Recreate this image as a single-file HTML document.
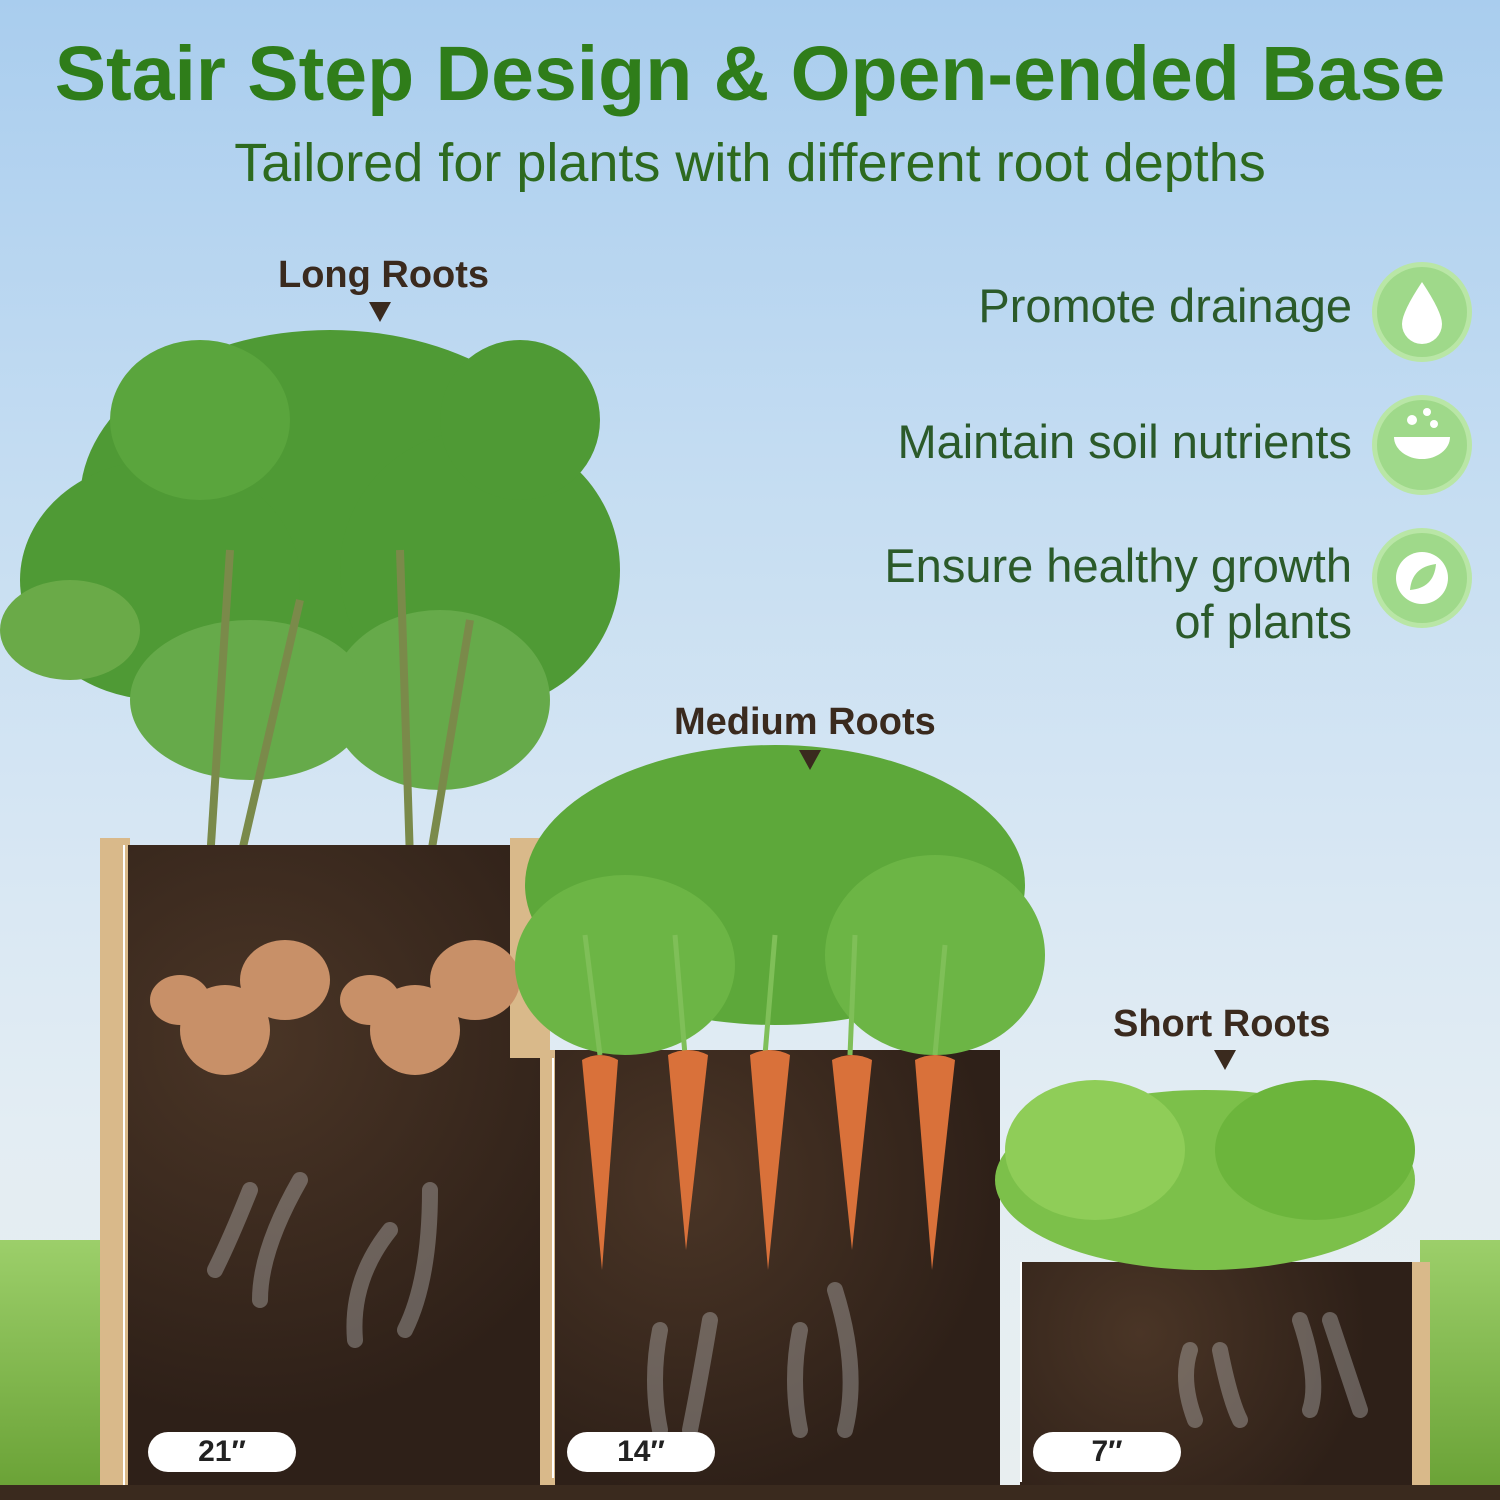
<!DOCTYPE html>
<html><head><meta charset="utf-8"><style>
*{margin:0;padding:0;box-sizing:border-box}
body{width:1500px;height:1500px;position:relative;overflow:hidden;font-family:"Liberation Sans",sans-serif;
background:linear-gradient(180deg,#a9cdee 0%,#c3dcf2 30%,#d6e6f3 55%,#e3edf3 75%,#e8eef0 100%)}
.abs{position:absolute}
.title{left:0;width:1500px;top:30px;text-align:center;font-size:77px;font-weight:900;color:#2f7d1a;white-space:nowrap}
.sub{left:0;width:1500px;top:132px;text-align:center;font-size:54px;color:#2d6a1f;white-space:nowrap}
.lbl{font-size:38px;font-weight:bold;color:#3a2a1e;white-space:nowrap}
.tri{width:0;height:0;border-left:11px solid transparent;border-right:11px solid transparent;border-top:20px solid #3a2a1e}
.soil{background:radial-gradient(circle at 30% 30%,#4a3526,#2e2018 70%);}
.pill{background:#fff;border-radius:20px;height:40px;width:148px;text-align:center;font-size:30px;font-weight:bold;color:#222;line-height:40px}
.bt{right:148px;font-size:47px;color:#2b5a2a;text-align:right;line-height:56px;white-space:nowrap}
.ic{width:100px;height:100px;border-radius:50%;background:#9fd98a;border:5px solid #b9e6a6}
.wood{background:#d9b98a}
</style></head><body>
<div class="abs" style="left:0;top:1240px;width:110px;height:250px;background:linear-gradient(#9ccf6a,#6aa236)"></div>
<div class="abs" style="left:1420px;top:1240px;width:80px;height:250px;background:linear-gradient(#9ccf6a,#6aa236)"></div>

<div class="abs title">Stair Step Design &amp; Open-ended Base</div>
<div class="abs sub">Tailored for plants with different root depths</div>

<svg class="abs" style="left:0;top:300px" width="660" height="560">
<g fill="#4f9a35">
<ellipse cx="330" cy="200" rx="250" ry="170"/><ellipse cx="160" cy="280" rx="140" ry="120"/>
<ellipse cx="480" cy="270" rx="140" ry="140"/><ellipse cx="70" cy="330" rx="70" ry="50" fill="#6aaa48"/>
<ellipse cx="520" cy="120" rx="80" ry="80"/><ellipse cx="200" cy="120" rx="90" ry="80" fill="#5aa53d"/>
<ellipse cx="440" cy="400" rx="110" ry="90" fill="#66aa4a"/><ellipse cx="250" cy="400" rx="120" ry="80" fill="#66aa4a"/>
</g>
<g stroke="#7a8a4a" stroke-width="8" fill="none"><path d="M210 560 L230 250"/><path d="M410 560 L400 250"/><path d="M240 560 L300 300"/><path d="M430 560 L470 320"/></g>
</svg>

<div class="abs wood" style="left:100px;top:838px;width:30px;height:660px"></div>
<div class="abs soil" style="left:128px;top:845px;width:420px;height:655px"></div>
<div class="abs wood" style="left:510px;top:838px;width:40px;height:220px"></div>
<svg class="abs" style="left:140px;top:930px" width="400" height="160">
<g fill="#c89068"><ellipse cx="40" cy="70" rx="30" ry="25"/><ellipse cx="145" cy="50" rx="45" ry="40"/><ellipse cx="85" cy="100" rx="45" ry="45"/>
<ellipse cx="230" cy="70" rx="30" ry="25"/><ellipse cx="335" cy="50" rx="45" ry="40"/><ellipse cx="275" cy="100" rx="45" ry="45"/></g></svg>

<div class="abs soil" style="left:550px;top:1050px;width:450px;height:450px"></div>
<div class="abs wood" style="left:540px;top:1050px;width:15px;height:450px"></div>
<svg class="abs" style="left:505px;top:735px" width="550" height="330">
<g fill="#5da83a"><ellipse cx="270" cy="150" rx="250" ry="140"/><ellipse cx="120" cy="230" rx="110" ry="90" fill="#6cb545"/><ellipse cx="430" cy="220" rx="110" ry="100" fill="#6cb545"/></g>
<g stroke="#7fbf58" stroke-width="5"><path d="M95 320 L80 200"/><path d="M180 320 L170 200"/><path d="M260 320 L270 200"/><path d="M345 320 L350 200"/><path d="M430 320 L440 210"/></g>
</svg>
<svg class="abs" style="left:570px;top:1050px" width="400" height="230">
<g fill="#d9713a"><path d="M12 10 Q30 0 48 10 L32 220Z"/><path d="M98 5 Q118 -5 138 5 L116 200Z"/><path d="M180 5 Q200 -5 220 5 L198 220Z"/><path d="M262 10 Q282 0 302 10 L282 200Z"/><path d="M345 10 Q365 0 385 10 L362 220Z"/></g></svg>

<div class="abs soil" style="left:1020px;top:1262px;width:400px;height:238px"></div>
<div class="abs wood" style="left:1412px;top:1262px;width:18px;height:238px"></div>
<svg class="abs" style="left:995px;top:1070px" width="440" height="200">
<g fill="#7cc04a"><ellipse cx="210" cy="110" rx="210" ry="90"/><ellipse cx="100" cy="80" rx="90" ry="70" fill="#8fcd58"/><ellipse cx="320" cy="80" rx="100" ry="70" fill="#6cb53c"/></g></svg>

<svg class="abs" style="left:0;top:0" width="1500" height="1500">
<g stroke="#e4e8ea" stroke-width="16" fill="none" opacity="0.3" stroke-linecap="round">
<path d="M250 1190 Q230 1240 215 1270"/><path d="M300 1180 Q260 1250 260 1300"/><path d="M390 1230 Q350 1280 355 1340"/><path d="M430 1190 Q430 1280 405 1330"/>
<path d="M660 1330 Q650 1380 660 1430"/><path d="M710 1320 Q700 1380 690 1430"/><path d="M800 1330 Q790 1380 800 1430"/><path d="M835 1290 Q860 1370 845 1430"/>
<path d="M1190 1350 Q1180 1380 1195 1420"/><path d="M1220 1350 Q1230 1400 1240 1420"/><path d="M1300 1320 Q1320 1380 1310 1410"/><path d="M1330 1320 Q1350 1380 1360 1410"/>
</g></svg>

<div class="abs" style="left:0;top:1485px;width:1500px;height:15px;background:#3a2a1e"></div>

<div class="abs" style="left:123px;top:845px;width:2px;height:640px;background:#fff"></div>
<div class="abs" style="left:552px;top:1058px;width:2px;height:420px;background:#fff"></div>
<div class="abs" style="left:1020px;top:1262px;width:2px;height:220px;background:#fff"></div>

<div class="abs pill" style="left:148px;top:1432px">21″</div>
<div class="abs pill" style="left:567px;top:1432px">14″</div>
<div class="abs pill" style="left:1033px;top:1432px">7″</div>

<div class="abs lbl" style="left:278px;top:254px">Long Roots</div>
<div class="abs tri" style="left:369px;top:302px"></div>
<div class="abs lbl" style="left:674px;top:701px">Medium Roots</div>
<div class="abs tri" style="left:799px;top:750px"></div>
<div class="abs lbl" style="left:1113px;top:1003px">Short Roots</div>
<div class="abs tri" style="left:1214px;top:1050px"></div>

<div class="abs bt" style="top:278px">Promote drainage</div>
<div class="abs bt" style="top:414px">Maintain soil nutrients</div>
<div class="abs bt" style="top:538px">Ensure healthy growth<br>of plants</div>
<div class="abs ic" style="left:1372px;top:262px"></div>
<div class="abs ic" style="left:1372px;top:395px"></div>
<div class="abs ic" style="left:1372px;top:528px"></div>
<svg class="abs" style="left:1372px;top:262px" width="100" height="400">
<path d="M50 20 Q30 50 30 62 A20 20 0 0 0 70 62 Q70 50 50 20Z" fill="#fff"/>
<path d="M22 175 A28 22 0 0 0 78 175Z" fill="#fff"/><circle cx="40" cy="158" r="5" fill="#fff"/><circle cx="55" cy="150" r="4" fill="#fff"/><circle cx="62" cy="162" r="4" fill="#fff"/>
<circle cx="50" cy="316" r="26" fill="#fff"/><path d="M38 328 Q40 305 64 302 Q62 326 38 328Z" fill="#9fd98a"/>
</svg>
</body></html>
